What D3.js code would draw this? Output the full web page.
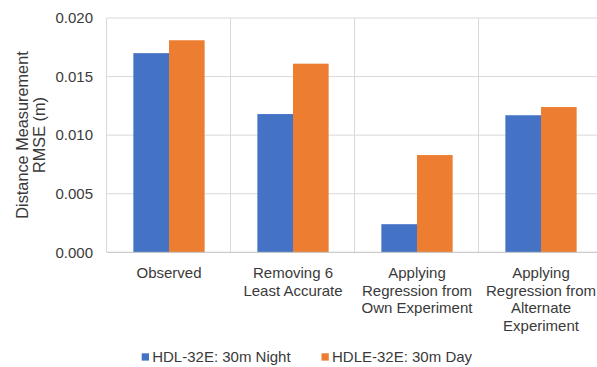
<!DOCTYPE html>
<html>
<head>
<meta charset="utf-8">
<script src="https://cdn.jsdelivr.net/npm/d3@7"></script>
<style>
  html, body { margin: 0; padding: 0; background: #fff; }
  svg { display: block; font-family: "Liberation Sans", Arial, sans-serif; }
</style>
</head>
<body>
<svg id="chart" width="597" height="367"></svg>
<script>
// Categories (each label split into lines)
const categories = [
  ["Observed"],
  ["Removing 6", "Least Accurate"],
  ["Applying", "Regression from", "Own Experiment"],
  ["Applying", "Regression from", "Alternate", "Experiment"]
];
const seriesNames = ["HDL-32E: 30m Night", "HDLE-32E: 30m Day"];
const nightValues = [0.0170, 0.0118, 0.0024, 0.0117];
const dayValues = [0.0181, 0.0161, 0.0083, 0.0124];
const yTicks = [0, 0.005, 0.010, 0.015, 0.020];
const colors = ["#4472C4", "#ED7D31"];

const svg = d3.select("#chart");
const margin = { left: 107, right: -6, top: 18, bottom: 115 };
const W = 597, H = 367;
const x0 = margin.left, x1 = W - margin.right;
const yTop = margin.top, yBot = H - margin.bottom + 0.3;

const catKeys = categories.map(c => c.join(" "));
const x = d3.scaleBand().domain(catKeys).range([x0, x1]).paddingInner(0).paddingOuter(0);
const xs = d3.scaleBand().domain(seriesNames).range([0, x.bandwidth()]).paddingInner(0).paddingOuter(0.74);
const y = d3.scaleLinear().domain([0, 0.02]).range([yBot, yTop]);

const textColor = "#3a3a3a";
const gridColor = "#d9d9d9";

// Horizontal gridlines
svg.append("g").selectAll("line").data(yTicks.filter(t => t > 0)).join("line")
  .attr("x1", x0).attr("x2", x1)
  .attr("y1", d => y(d)).attr("y2", d => y(d))
  .attr("stroke", gridColor).attr("stroke-width", 1);

// Vertical gridlines at category boundaries
svg.append("g").selectAll("line").data(catKeys).join("line")
  .attr("x1", d => x(d) - 0.5).attr("x2", d => x(d) - 0.5)
  .attr("y1", yTop).attr("y2", yBot)
  .attr("stroke", gridColor).attr("stroke-width", 1);

// Bars
const rows = catKeys.map((k, i) => ({ key: k, vals: [nightValues[i], dayValues[i]] }));
const groups = svg.append("g").selectAll("g").data(rows).join("g")
  .attr("transform", d => `translate(${x(d.key)},0)`);
groups.selectAll("rect").data(d => d.vals.map((v, j) => ({ v, s: seriesNames[j], j }))).join("rect")
  .attr("x", d => xs(d.s))
  .attr("width", xs.bandwidth())
  .attr("y", d => y(d.v))
  .attr("height", d => yBot - y(d.v))
  .attr("fill", d => colors[d.j]);

// Baseline axis
svg.append("line")
  .attr("x1", x0).attr("x2", x1).attr("y1", yBot).attr("y2", yBot)
  .attr("stroke", "#bfbfbf").attr("stroke-width", 1);

// Y axis tick labels
const yAxis = d3.axisLeft(y).tickValues(yTicks).tickFormat(d3.format(".3f")).tickSize(0).tickPadding(14);
const yg = svg.append("g").attr("transform", `translate(${x0},0)`).call(yAxis);
yg.select(".domain").remove();
yg.selectAll("text").attr("font-size", 15).attr("fill", textColor)
  .attr("font-family", "Liberation Sans, Arial, sans-serif");

// Category labels
const catLabels = svg.append("g").selectAll("text").data(categories).join("text")
  .attr("text-anchor", "middle")
  .attr("font-size", 15).attr("fill", textColor)
  .attr("transform", (d, i) => `translate(${x(catKeys[i]) + x.bandwidth() / 2},278.3)`);
catLabels.selectAll("tspan").data(d => d).join("tspan")
  .attr("x", 0).attr("dy", (d, i) => i === 0 ? 0 : 17.5).text(d => d);

// Y axis title
svg.append("text")
  .attr("transform", "translate(22,135) rotate(-90)")
  .attr("text-anchor", "middle").attr("font-size", 16.3).attr("fill", textColor)
  .selectAll("tspan").data(["Distance Measurement", "RMSE (m)"]).join("tspan")
  .attr("x", 0).attr("dy", (d, i) => i === 0 ? "0.35em" : 17.5).text(d => d);

// Legend
const legendX = [141.7, 321.5];
const lg = svg.append("g").selectAll("g").data(seriesNames).join("g")
  .attr("transform", (d, i) => `translate(${legendX[i]},353.3)`);
lg.append("rect").attr("width", 7.3).attr("height", 7.3).attr("fill", (d, i) => colors[i]);
lg.append("text").attr("x", 10.5).attr("y", 8.4).attr("font-size", 15).attr("fill", textColor).text(d => d);
</script>
</body>
</html>
